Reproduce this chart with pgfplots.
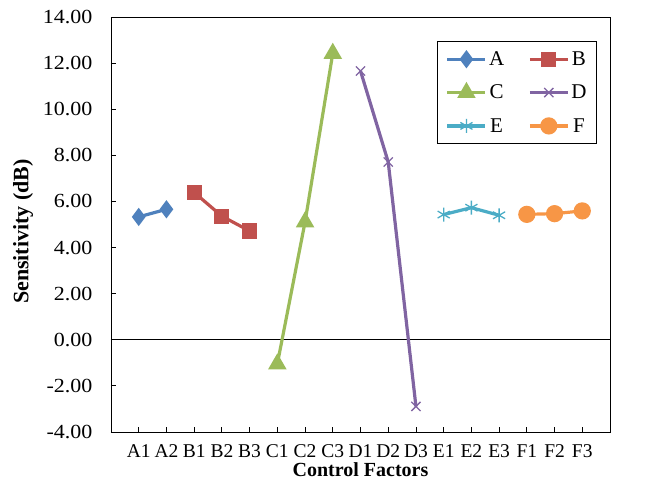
\documentclass[border=0pt]{standalone}
\usepackage{fontspec}
\setmainfont{Liberation Serif}
\newfontfamily\ytf[FakeStretch=1.1]{Liberation Serif}
\usepackage{pgfplots}
\pgfplotsset{compat=1.18}
\definecolor{cA}{HTML}{4F81BD}
\definecolor{cB}{HTML}{C0504D}
\definecolor{cC}{HTML}{9BBB59}
\definecolor{cD}{HTML}{8064A2}
\definecolor{cE}{HTML}{4BACC6}
\definecolor{cF}{HTML}{F79646}
\begin{document}
\begin{tikzpicture}
\begin{axis}[
  scale only axis, width=499pt, height=415pt,
  xmin=0, xmax=18, ymin=-4, ymax=14,
  xtick={1,...,17},
  xticklabels={A1,A2,B1,B2,B3,C1,C2,C3,D1,D2,D3,E1,E2,E3,F1,F2,F3},
  ytick={-4,-2,...,14},
  tick align=inside, xtick pos=bottom, ytick pos=left,
  major tick length=5pt,
  axis line style={line width=0.9pt},
  tick style={line width=0.8pt, black},
  /pgf/number format/assume math mode=true,
  yticklabel={\pgfmathprintnumber[fixed,fixed zerofill,precision=2,assume math mode=true]{\tick}},
  yticklabel style={xshift=-15pt, font=\ytf\fontsize{20}{23}\selectfont},
  xticklabel style={yshift=-9pt, font=\fontsize{19.5}{22}\selectfont},
  xlabel={\textbf{Control Factors}},
  ylabel={\textbf{Sensitivity (dB)}},
  xlabel style={at={(axis description cs:0.5,-0.0916)}, anchor=center, font=\fontsize{20}{23}\selectfont},
  ylabel style={at={(axis description cs:-0.176,0.483)}, anchor=center, font=\fontsize{22}{25}\selectfont},
  legend columns=2,
  legend style={at={(axis description cs:0.974,0.942)}, anchor=north east,
    draw=black, line width=0.9pt, font=\fontsize{21}{23}\selectfont,
    inner xsep=8pt, inner ysep=8pt, row sep=14pt,
    nodes={inner xsep=2pt},
    /tikz/every even column/.append style={column sep=22pt}},
  legend image code/.code={\draw[mark repeat=2,mark phase=2] plot coordinates {(0pt,0pt) (19pt,0pt) (38pt,0pt)};},
  every axis plot/.append style={line width=3.2pt},
]
\addplot[forget plot, black, line width=0.9pt] coordinates {(0,0) (18,0)};
\addplot[cA, mark=diamond*, mark size=6.5pt] coordinates {(1,5.33) (2,5.66)};
\addlegendentry{A}
\addplot[cB, mark=square*, mark size=6pt] coordinates {(3,6.39) (4,5.36) (5,4.72)};
\addlegendentry{B}
\addplot[cC, mark=triangle*, mark size=7.5pt] coordinates {(6,-1.05) (7,5.11) (8,12.42)};
\addlegendentry{C}
\addplot[cD, mark=x, mark size=6.5pt, mark options={line width=1.3pt}] coordinates {(9,11.66) (10,7.71) (11,-2.89)};
\addlegendentry{D}
\addplot[cE, mark=asterisk, mark size=7pt, mark options={line width=1.3pt}] coordinates {(12,5.43) (13,5.73) (14,5.40)};
\addlegendentry{E}
\addplot[cF, mark=*, mark size=7pt] coordinates {(15,5.44) (16,5.47) (17,5.59)};
\addlegendentry{F}
\coordinate (bl) at (rel axis cs:0,0);
\coordinate (tr) at (rel axis cs:1,1);
\end{axis}
\path[use as bounding box] ([shift={(-111pt,-50pt)}]bl) rectangle ([shift={(41pt,17pt)}]tr);
\end{tikzpicture}
\end{document}
